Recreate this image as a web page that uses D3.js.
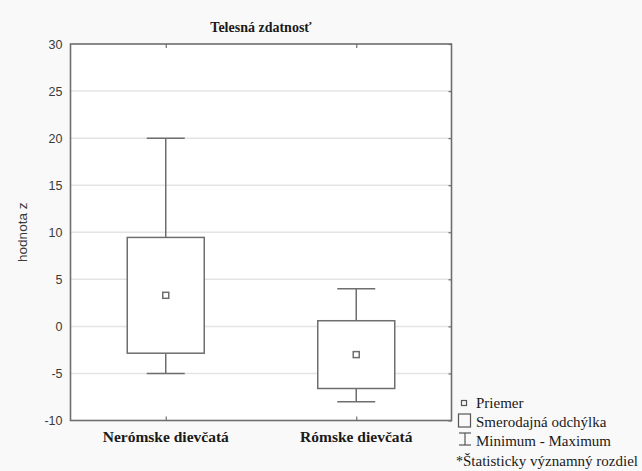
<!DOCTYPE html>
<html>
<head>
<meta charset="utf-8">
<script src="https://cdn.jsdelivr.net/npm/d3@7/dist/d3.min.js"></script>
<style>
  html, body { margin: 0; padding: 0; background: #f9f9f9; }
  svg { display: block; }
</style>
</head>
<body>
<svg id="chart" width="642" height="471"></svg>
<script>
// Groups and their summary statistics (z-scores)
const groups = ["Nerómske dievčatá", "Rómske dievčatá"];
const means = [3.3, -3.0];
const sdLow = [-2.85, -6.6];
const sdHigh = [9.45, 0.6];
const minima = [-5, -8];
const maxima = [20, 4];
const yTicks = [-10, -5, 0, 5, 10, 15, 20, 25, 30];

const legendItems = ["Priemer", "Smerodajná odchýlka", "Minimum - Maximum", "Štatisticky významný rozdiel"];

const svg = d3.select("#chart");
const plot = { left: 70.5, right: 451.5, top: 44, bottom: 420.5 };

const x = d3.scalePoint().domain(groups).range([plot.left, plot.right]).padding(0.5);
const y = d3.scaleLinear().domain([-10, 30]).range([plot.bottom, plot.top]);

const frame = "#6e6e6e";
const serif = "'Liberation Serif', 'Times New Roman', serif";
const sans = "'Liberation Sans', Arial, sans-serif";

// plot area
svg.append("rect")
  .attr("x", plot.left).attr("y", plot.top)
  .attr("width", plot.right - plot.left).attr("height", plot.bottom - plot.top)
  .attr("fill", "#ffffff");

// horizontal grid
svg.append("g").selectAll("line")
  .data(yTicks.filter(d => d > -10 && d < 30))
  .join("line")
  .attr("x1", plot.left).attr("x2", plot.right)
  .attr("y1", d => y(d)).attr("y2", d => y(d))
  .attr("stroke", "#e4e4e4").attr("stroke-width", 1.5);

// left axis labels (plain hyphen for negatives)
const yAxis = d3.axisLeft(y).tickValues(yTicks).tickSize(0).tickPadding(8).tickFormat(d => String(d));
const ga = svg.append("g").attr("transform", `translate(${plot.left},0)`).call(yAxis);
ga.select(".domain").remove();
ga.selectAll("text")
  .attr("font-family", sans).attr("font-size", 12.5).attr("fill", "#3a3a3a");

// right side tick marks
const yRight = d3.axisRight(y).tickValues(yTicks).tickSize(-3).tickFormat("");
const gr = svg.append("g").attr("transform", `translate(${plot.right},0)`).call(yRight);
gr.select(".domain").remove();
gr.selectAll("line").attr("stroke", frame).attr("stroke-width", 1.2);

// category tick marks at top and bottom
const xBottom = d3.axisBottom(x).tickSize(-4).tickFormat("");
const gb = svg.append("g").attr("transform", `translate(0,${plot.bottom})`).call(xBottom);
gb.select(".domain").remove();
gb.selectAll("line").attr("stroke", frame).attr("stroke-width", 1.2);
const xTop = d3.axisTop(x).tickSize(-4).tickFormat("");
const gt = svg.append("g").attr("transform", `translate(0,${plot.top})`).call(xTop);
gt.select(".domain").remove();
gt.selectAll("line").attr("stroke", frame).attr("stroke-width", 1.2);

// category labels
svg.append("g").selectAll("text")
  .data(groups)
  .join("text")
  .attr("x", d => x(d)).attr("y", 442)
  .attr("text-anchor", "middle")
  .attr("font-family", serif).attr("font-weight", "bold").attr("font-size", 15.5)
  .attr("fill", "#1a1a1a")
  .text(d => d);

// boxes: mean ± standard deviation, whiskers: min–max
const boxW = 77, capW = 38;
const data = groups.map((g, i) => ({ g, mean: means[i], lo: sdLow[i], hi: sdHigh[i], min: minima[i], max: maxima[i] }));
const bx = svg.append("g").attr("stroke", frame).attr("stroke-width", 1.5).attr("fill", "none");
data.forEach(d => {
  const cx = x(d.g);
  bx.append("line").attr("x1", cx).attr("x2", cx).attr("y1", y(d.max)).attr("y2", y(d.hi));
  bx.append("line").attr("x1", cx).attr("x2", cx).attr("y1", y(d.lo)).attr("y2", y(d.min));
  bx.append("line").attr("x1", cx - capW / 2).attr("x2", cx + capW / 2).attr("y1", y(d.max)).attr("y2", y(d.max));
  bx.append("line").attr("x1", cx - capW / 2).attr("x2", cx + capW / 2).attr("y1", y(d.min)).attr("y2", y(d.min));
  bx.append("rect").attr("x", cx - boxW / 2).attr("y", y(d.hi))
    .attr("width", boxW).attr("height", y(d.lo) - y(d.hi)).attr("fill", "#ffffff");
  bx.append("rect").attr("x", cx - 3).attr("y", y(d.mean) - 3)
    .attr("width", 6).attr("height", 6).attr("fill", "#ffffff");
});

// frame
svg.append("rect")
  .attr("x", plot.left).attr("y", plot.top)
  .attr("width", plot.right - plot.left).attr("height", plot.bottom - plot.top)
  .attr("fill", "none").attr("stroke", frame).attr("stroke-width", 1.6);

// title
svg.append("text")
  .attr("x", (plot.left + plot.right) / 2).attr("y", 32)
  .attr("text-anchor", "middle")
  .attr("font-family", serif).attr("font-weight", "bold").attr("font-size", 14)
  .attr("fill", "#1a1a1a")
  .text("Telesná zdatnosť");

// y axis title
svg.append("text")
  .attr("transform", `translate(27,${(plot.top + plot.bottom) / 2}) rotate(-90)`)
  .attr("text-anchor", "middle")
  .attr("font-family", sans).attr("font-size", 13.5).attr("fill", "#3a3a3a")
  .text("hodnota z");

// legend
const rowY = [408, 427, 446, 465.5];
svg.append("g").selectAll("text")
  .data(legendItems)
  .join("text")
  .attr("x", (d, i) => i === 3 ? 463 : 476)
  .attr("y", (d, i) => rowY[i])
  .attr("font-family", serif).attr("font-size", 15).attr("fill", "#1a1a1a")
  .text(d => d);
svg.append("text")
  .attr("x", 456).attr("y", rowY[3])
  .attr("font-family", serif).attr("font-size", 14).attr("fill", "#1a1a1a")
  .text("*");
const ls = svg.append("g").attr("stroke", "#555").attr("stroke-width", 1.2).attr("fill", "none");
ls.append("rect").attr("x", 461.5).attr("y", 400.5).attr("width", 5).attr("height", 5);
ls.append("rect").attr("x", 458.5).attr("y", 414).attr("width", 12).attr("height", 13);
ls.append("line").attr("x1", 465).attr("x2", 465).attr("y1", 433).attr("y2", 445);
ls.append("line").attr("x1", 459).attr("x2", 471).attr("y1", 433).attr("y2", 433);
ls.append("line").attr("x1", 459).attr("x2", 471).attr("y1", 445).attr("y2", 445);
</script>
</body>
</html>
